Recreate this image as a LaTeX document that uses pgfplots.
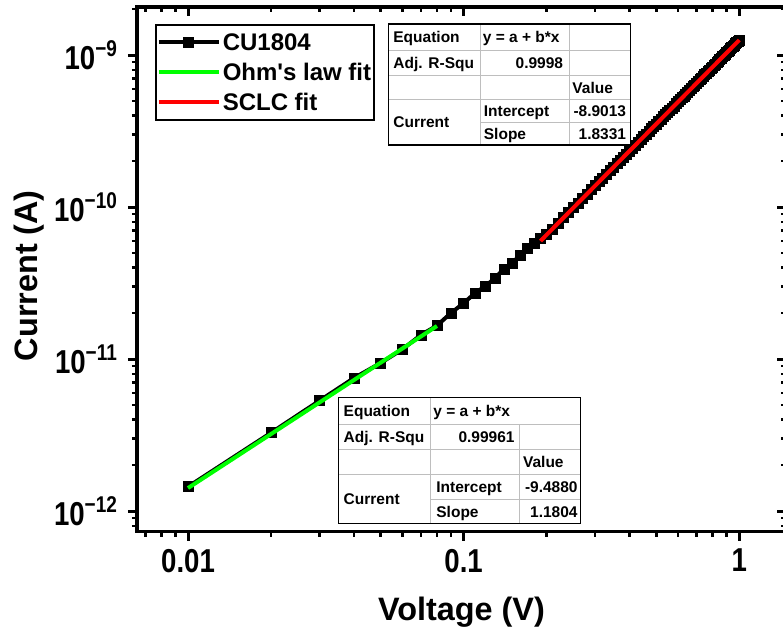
\documentclass[border=0pt]{standalone}
\usepackage{fontspec}
\setmainfont{Liberation Sans}
\usepackage{pgfplots}
\usepackage{pgfplotstable}
\pgfplotsset{compat=1.18}
\definecolor{fitgreen}{RGB}{0,255,0}
\definecolor{fitred}{RGB}{255,0,0}
\definecolor{tabgray}{RGB}{190,190,190}

\pgfplotstableread{
V I
0.01 1.445e-12
0.02 3.27e-12
0.03 5.32e-12
0.04 7.50e-12
0.05 9.42e-12
0.06 1.16e-11
0.07 1.44e-11
0.08 1.66e-11
0.09 2.01e-11
0.10 2.33e-11
0.11 2.72e-11
0.12 3.02e-11
0.13 3.41e-11
0.14 3.91e-11
0.15 4.28e-11
0.16 4.83e-11
0.17 5.37e-11
0.18 5.79e-11
0.19 6.25e-11
0.20 6.62e-11
0.21 7.18e-11
0.22 7.82e-11
0.23 8.49e-11
0.24 9.17e-11
0.25 9.89e-11
0.26 1.062e-10
0.27 1.138e-10
0.28 1.217e-10
0.29 1.298e-10
0.30 1.381e-10
0.31 1.466e-10
0.32 1.554e-10
0.33 1.645e-10
0.34 1.737e-10
0.35 1.832e-10
0.36 1.929e-10
0.37 2.028e-10
0.38 2.130e-10
0.39 2.234e-10
0.40 2.340e-10
0.41 2.448e-10
0.42 2.559e-10
0.43 2.672e-10
0.44 2.787e-10
0.45 2.904e-10
0.46 3.023e-10
0.47 3.146e-10
0.48 3.269e-10
0.49 3.395e-10
0.50 3.523e-10
0.51 3.653e-10
0.52 3.786e-10
0.53 3.920e-10
0.54 4.057e-10
0.55 4.196e-10
0.56 4.337e-10
0.57 4.480e-10
0.58 4.625e-10
0.59 4.772e-10
0.60 4.921e-10
0.61 5.073e-10
0.62 5.226e-10
0.63 5.382e-10
0.64 5.540e-10
0.65 5.699e-10
0.66 5.861e-10
0.67 6.025e-10
0.68 6.191e-10
0.69 6.359e-10
0.70 6.529e-10
0.71 6.701e-10
0.72 6.875e-10
0.73 7.051e-10
0.74 7.229e-10
0.75 7.409e-10
0.76 7.591e-10
0.77 7.774e-10
0.78 7.960e-10
0.79 8.149e-10
0.80 8.339e-10
0.81 8.531e-10
0.82 8.724e-10
0.83 8.921e-10
0.84 9.119e-10
0.85 9.319e-10
0.86 9.520e-10
0.87 9.724e-10
0.88 9.930e-10
0.89 1.0137e-9
0.90 1.0347e-9
0.91 1.0559e-9
0.92 1.0773e-9
0.93 1.0988e-9
0.94 1.1206e-9
0.95 1.1425e-9
0.96 1.1647e-9
0.97 1.1870e-9
0.98 1.2096e-9
0.99 1.2323e-9
1.00 1.2553e-9
}\datatable

\newcommand{\tabfont}{\bfseries\fontsize{7.75}{9}\selectfont}
\newcommand{\expo}[1]{\raisebox{5.5pt}{\fontsize{9.5}{9.5}\selectfont #1}}

\begin{document}
\begin{tikzpicture}
\begin{axis}[
  at={(0,0)}, anchor=south west, scale only axis,
  width=324.5pt, height=262.35pt,
  xmode=log, ymode=log,
  xmin=0.00653, xmax=1.477, ymin=7.31e-13, ymax=2.07e-9,
  clip mode=individual,
  axis line style={line width=1.6pt},
  major tick length=4.5pt, minor tick length=2.5pt,
  major tick style={line width=1.5pt, black},
  minor tick style={line width=1.2pt, black},
  xtick={0.01,0.1,1},
  minor xtick={0.007,0.008,0.009,0.02,0.03,0.04,0.05,0.06,0.07,0.08,0.09,0.2,0.3,0.4,0.5,0.6,0.7,0.8,0.9},
  ytick={1e-12,1e-11,1e-10,1e-9},
  minor ytick={8e-13,9e-13,2e-12,3e-12,4e-12,5e-12,6e-12,7e-12,8e-12,9e-12,2e-11,3e-11,4e-11,5e-11,6e-11,7e-11,8e-11,9e-11,2e-10,3e-10,4e-10,5e-10,6e-10,7e-10,8e-10,9e-10,2e-9},
  xtick pos=left, ytick pos=left, tick align=outside,
  xticklabels={0.01,0.1,1},
  yticklabels={10\expo{−12},10\expo{−11},10\expo{−10},10\expo{−9}},
  tick label style={font=\bfseries\fontsize{13.8}{15}\selectfont, yscale=1.2},
  yticklabel style={xshift=-2pt},
  xlabel={Voltage (V)}, ylabel={Current (A)},
  label style={font=\bfseries\fontsize{16.2}{19}\selectfont},
  xlabel style={at={(axis description cs:0.5,-0.153)}, anchor=center},
  ylabel style={at={(axis description cs:-0.1664,0.488)}, anchor=center},
  legend cell align=left,
  legend image code/.code={
    \draw[mark repeat=2,mark phase=2,#1] plot coordinates {(0pt,0pt) (15pt,0pt) (30pt,0pt)};
  },
  legend style={at={(axis description cs:0.0277,0.9676)}, anchor=north west,
    draw=black, line width=0.8pt, inner xsep=0.5pt, inner ysep=2.75pt, row sep=3pt,
    font=\bfseries\fontsize{12}{14}\selectfont,
    nodes={inner sep=1pt, text height=9pt, text depth=1pt}},
]
\addplot[black, line width=2pt, mark=square*, mark size=2.5pt, mark options={solid, line width=0.4pt}]
  table[x=V, y=I] {\datatable};
\addlegendentry{CU1804}
\addplot[fitgreen, line width=2pt] coordinates {(0.01,1.416e-12) (0.08,1.649e-11)};
\addlegendentry{Ohm\textquotesingle s law fit}
\addplot[fitred, line width=2pt] coordinates {(0.19,5.98e-11) (1,1.2553e-9)};
\addlegendentry{SCLC fit}
\end{axis}
\begin{axis}[
  at={(0,0)}, anchor=south west, scale only axis,
  width=324.5pt, height=262.35pt,
  xmode=log, ymode=log,
  xmin=0.00653, xmax=1.477, ymin=7.31e-13, ymax=2.07e-9,
  axis line style={line width=1.6pt},
  major tick length=4.5pt, minor tick length=2.5pt,
  major tick style={line width=1.5pt, black},
  minor tick style={line width=1.2pt, black},
  xtick={0.01,0.1,1},
  minor xtick={0.007,0.008,0.009,0.02,0.03,0.04,0.05,0.06,0.07,0.08,0.09,0.2,0.3,0.4,0.5,0.6,0.7,0.8,0.9},
  ytick={1e-12,1e-11,1e-10,1e-9},
  minor ytick={8e-13,9e-13,2e-12,3e-12,4e-12,5e-12,6e-12,7e-12,8e-12,9e-12,2e-11,3e-11,4e-11,5e-11,6e-11,7e-11,8e-11,9e-11,2e-10,3e-10,4e-10,5e-10,6e-10,7e-10,8e-10,9e-10,2e-9},
  xtick pos=right, ytick pos=right, tick align=inside,
  xticklabels={}, yticklabels={}]
\addplot[draw=none] coordinates {(0.1,1e-11)};
\end{axis}

\begin{scope}[shift={(-68.5pt,265.85pt)}, x=0.5pt, y=-0.5pt]
  % top table
  \fill[white] (388.3,24) rectangle (630.7,145);
  \draw[tabgray, line width=0.5pt]
    (388.3,50.7) -- (630.7,50.7)
    (388.3,76) -- (630.7,76)
    (388.3,99.3) -- (630.7,99.3)
    (480,122.7) -- (630.7,122.7)
    (480,24) -- (480,145)
    (569.3,24) -- (569.3,145);
  \draw[black, line width=0.75pt] (388.3,24) rectangle (630.7,145);
  \begin{scope}[every node/.style={inner sep=0pt, font=\tabfont}]
    \node[anchor=base west] at (393,42.8) {Equation};
    \node[anchor=base west] at (482.5,42.8) {y = a + b*x};
    \node[anchor=base west] at (393,68.8) {Adj. R-Squ};
    \node[anchor=base east] at (563.5,68.8) {0.9998};
    \node[anchor=base west] at (572,93.2) {Value};
    \node[anchor=base west] at (393,128) {Current};
    \node[anchor=base west] at (483.5,116.5) {Intercept};
    \node[anchor=base east] at (626.5,116.5) {-8.9013};
    \node[anchor=base west] at (483.5,139.3) {Slope};
    \node[anchor=base east] at (626.5,139.3) {1.8331};
  \end{scope}
  % bottom table
  \fill[white] (338.3,397.7) rectangle (580.7,523.3);
  \draw[tabgray, line width=0.5pt]
    (338.3,425) -- (580.7,425)
    (338.3,450) -- (580.7,450)
    (338.3,475) -- (580.7,475)
    (430,500) -- (580.7,500)
    (430,397.7) -- (430,523.3)
    (519.3,425) -- (519.3,523.3);
  \draw[black, line width=0.75pt] (338.3,397.7) rectangle (580.7,523.3);
  \begin{scope}[every node/.style={inner sep=0pt, font=\tabfont}]
    \node[anchor=base west] at (343.3,416.8) {Equation};
    \node[anchor=base west] at (433,416.8) {y = a + b*x};
    \node[anchor=base west] at (343.3,443) {Adj. R-Squ};
    \node[anchor=base east] at (515,443) {0.99961};
    \node[anchor=base west] at (522.7,468) {Value};
    \node[anchor=base west] at (343.3,505) {Current};
    \node[anchor=base west] at (436,493) {Intercept};
    \node[anchor=base east] at (578,493) {-9.4880};
    \node[anchor=base west] at (436,517.2) {Slope};
    \node[anchor=base east] at (578,517.2) {1.1804};
  \end{scope}
  \pgfresetboundingbox
  \path[use as bounding box] (0,637) rectangle (783,0);
\end{scope}
\end{tikzpicture}
\end{document}
